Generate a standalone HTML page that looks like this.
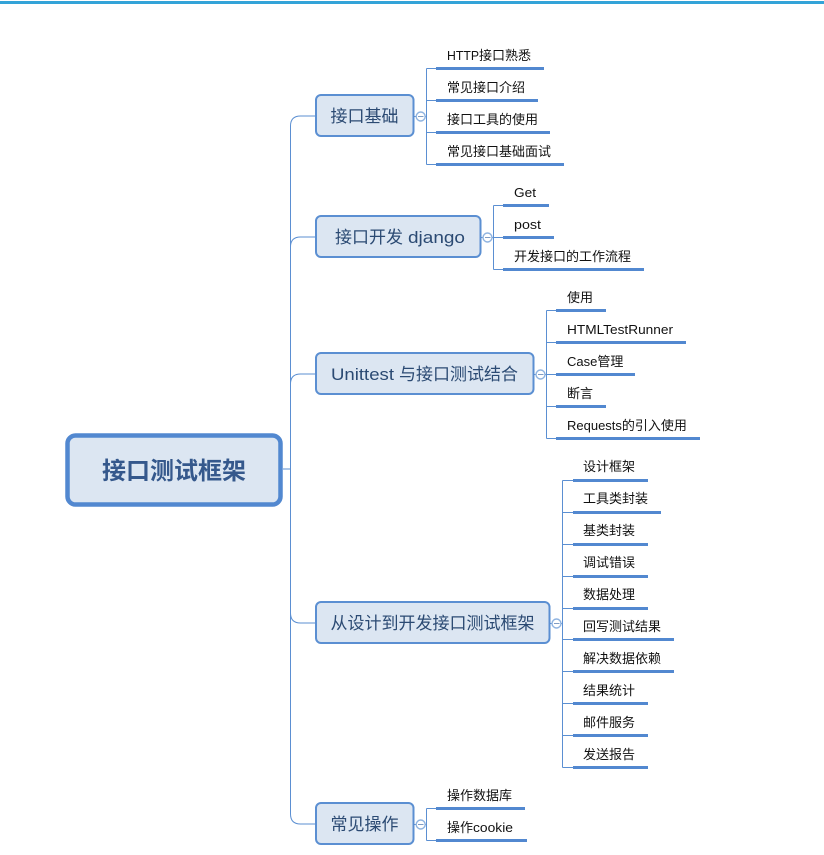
<!DOCTYPE html>
<html><head><meta charset="utf-8"><style>
html,body{margin:0;padding:0;background:#fff;width:824px;height:855px;overflow:hidden}
svg{display:block}
text{font-family:"Liberation Sans","Noto Sans CJK SC",sans-serif}
.l{font-size:13px;fill:#111}
.t{font-size:17px;fill:#2b4a73;text-anchor:middle}
.u{font-size:17px;fill:#2b4a73}
.n{fill:none;stroke:#5b8fd2;stroke-width:1}
.b{fill:none;stroke:#5288d0;stroke-width:3}
.r{fill:#dce6f2;stroke:#5b8fd2;stroke-width:2}
.c{fill:#fff;stroke:#8fb3e0;stroke-width:1.4}
.m{stroke:#7f9cc4;stroke-width:1}
</style></head><body>
<svg width="824" height="855" viewBox="0 0 824 855" xmlns="http://www.w3.org/2000/svg">
<rect x="0" y="1" width="824" height="3" fill="#33a3d8"/>
<path class="n" d="M283 469H290.5M315 116H300.5Q290.5 116 290.5 126V814Q290.5 824 300.5 824H315M315 237H300.5Q290.5 237 290.5 247M315 374H300.5Q290.5 374 290.5 384M315 623H300.5Q290.5 623 290.5 613"/>
<rect x="67.5" y="435.5" width="213" height="69" rx="8" fill="#dce6f2" stroke="#5288d0" stroke-width="4.5"/>
<text x="174" y="479" font-size="24" font-weight="700" fill="#35588c" text-anchor="middle">接口测试框架</text>

<path class="n" d="M414 116.500H426.500M426.500 68.500V164.500M426.500 68.500H436M426.500 100.500H436M426.500 132.500H436M426.500 164.500H436"/>
<path class="b" d="M436 68.500H544M436 100.500H538M436 132.500H550M436 164.500H564"/>
<rect class="r" x="316" y="95" width="97.500" height="41" rx="5"/>
<text class="t" x="364.500" y="122">接口基础</text>
<circle class="c" cx="420.700" cy="116.500" r="4.500"/><path class="m" d="M418 116.500H423.500"/>
<text class="l" x="447" y="60"><tspan textLength="32" lengthAdjust="spacingAndGlyphs">HTTP</tspan></text>
<text class="l" x="479" y="60">接口熟悉</text>
<text class="l" x="447" y="92">常见接口介绍</text>
<text class="l" x="447" y="124">接口工具的使用</text>
<text class="l" x="447" y="156">常见接口基础面试</text>

<path class="n" d="M481 237.500H493.500M493.500 205.500V269.500M493.500 205.500H503M493.500 237.500H503M493.500 269.500H503"/>
<path class="b" d="M503 205.500H549M503 237.500H554M503 269.500H644"/>
<rect class="r" x="316" y="216" width="164.500" height="41" rx="5"/>
<text class="u" x="335" y="243">接口开发</text>
<text class="u" x="408" y="243" textLength="57" lengthAdjust="spacingAndGlyphs">django</text>
<circle class="c" cx="487.500" cy="237.500" r="4.500"/><path class="m" d="M485 237.500H490.500"/>
<text class="l" x="514" y="197" textLength="22" lengthAdjust="spacingAndGlyphs">Get</text>
<text class="l" x="514" y="229" textLength="27" lengthAdjust="spacingAndGlyphs">post</text>
<text class="l" x="514" y="261">开发接口的工作流程</text>

<path class="n" d="M534 374.500H546.500M546.500 310.500V438.500M546.500 310.500H556M546.500 342.500H556M546.500 374.500H556M546.500 406.500H556M546.500 438.500H556"/>
<path class="b" d="M556 310.500H606M556 342.500H686M556 374.500H635M556 406.500H606M556 438.500H700"/>
<rect class="r" x="316" y="353" width="217.500" height="41" rx="5"/>
<text class="u" x="331" y="380" textLength="63" lengthAdjust="spacingAndGlyphs">Unittest</text>
<text class="u" x="399" y="380">与接口测试结合</text>
<circle class="c" cx="540.500" cy="374.500" r="4.500"/><path class="m" d="M538 374.500H543.500"/>
<text class="l" x="567" y="302">使用</text>
<text class="l" x="567" y="334" textLength="106" lengthAdjust="spacingAndGlyphs">HTMLTestRunner</text>
<text class="l" x="567" y="366">Case管理</text>
<text class="l" x="567" y="398">断言</text>
<text class="l" x="567" y="430">Requests的引入使用</text>

<path class="n" d="M550 623.500H562.500M562.500 480.500V767.500M562.500 480.500H573M562.500 512.500H573M562.500 544.500H573M562.500 576.500H573M562.500 608.500H573M562.500 639.500H573M562.500 671.500H573M562.500 703.500H573M562.500 735.500H573M562.500 767.500H573"/>
<path class="b" d="M573 480.500H648M573 512.500H661M573 544.500H648M573 576.500H648M573 608.500H648M573 639.500H674M573 671.500H674M573 703.500H648M573 735.500H648M573 767.500H648"/>
<rect class="r" x="316" y="602" width="233.500" height="41" rx="5"/>
<text class="t" x="432.500" y="629">从设计到开发接口测试框架</text>
<circle class="c" cx="556.500" cy="623.500" r="4.500"/><path class="m" d="M554 623.500H559.500"/>
<text class="l" x="583" y="471">设计框架</text>
<text class="l" x="583" y="503">工具类封装</text>
<text class="l" x="583" y="535">基类封装</text>
<text class="l" x="583" y="567">调试错误</text>
<text class="l" x="583" y="599">数据处理</text>
<text class="l" x="583" y="631">回写测试结果</text>
<text class="l" x="583" y="663">解决数据依赖</text>
<text class="l" x="583" y="695">结果统计</text>
<text class="l" x="583" y="727">邮件服务</text>
<text class="l" x="583" y="759">发送报告</text>

<path class="n" d="M414 824.500H426.500M426.500 808.500V840.500M426.500 808.500H436M426.500 840.500H436"/>
<path class="b" d="M436 808.500H525M436 840.500H527"/>
<rect class="r" x="316" y="803" width="97.500" height="41" rx="5"/>
<text class="t" x="364.500" y="830">常见操作</text>
<circle class="c" cx="420.700" cy="824.500" r="4.500"/><path class="m" d="M418 824.500H423.500"/>
<text class="l" x="447" y="800">操作数据库</text>
<text class="l" x="447" y="832">操作</text>
<text class="l" x="473" y="832" textLength="40" lengthAdjust="spacingAndGlyphs">cookie</text>
</svg>
</body></html>
